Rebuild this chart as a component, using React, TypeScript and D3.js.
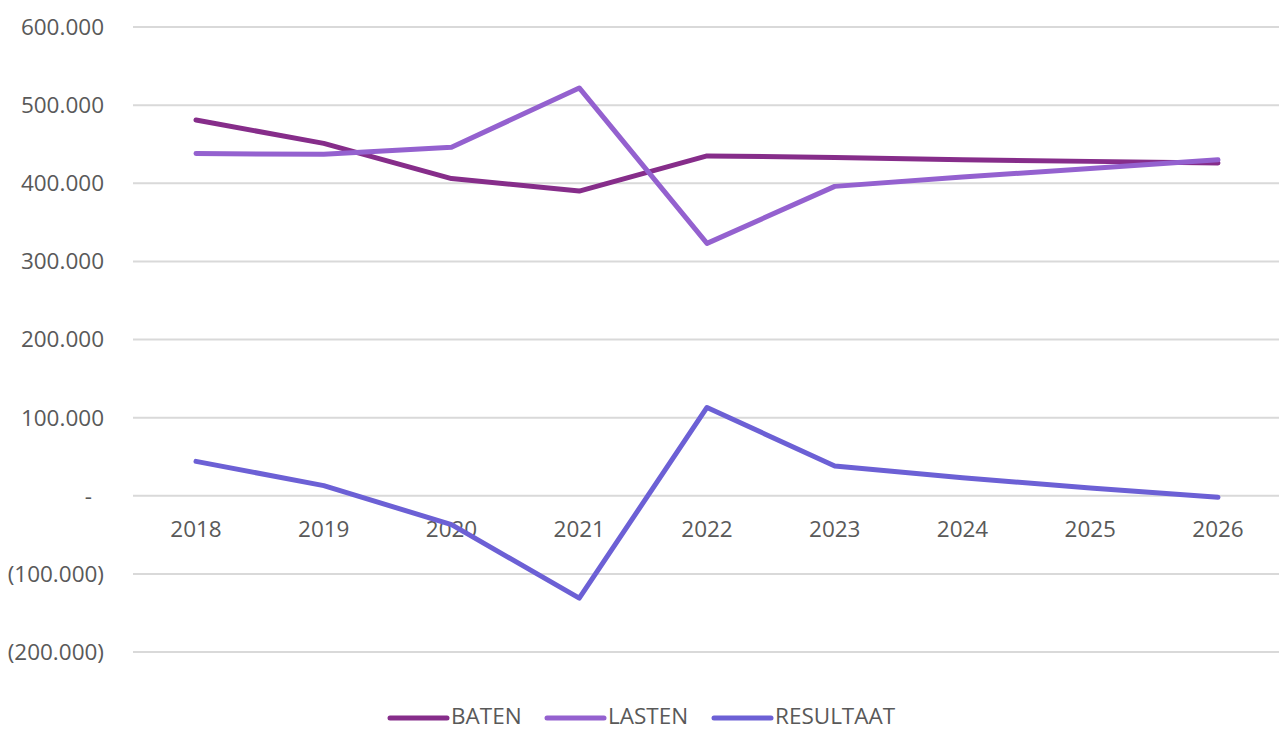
import React, { useEffect, useRef } from 'react';
import * as d3 from 'd3';

const years = ['2018', '2019', '2020', '2021', '2022', '2023', '2024', '2025', '2026'];
const baten = [481000, 451000, 406000, 390000, 435000, 433000, 430000, 428000, 426000];
const lasten = [438000, 437000, 446000, 522000, 323000, 396000, 408000, 419000, 430000];
const resultaat = [44000, 13000, -37000, -131000, 113000, 38000, 23000, 10000, -2000];
const yTicks = [600000, 500000, 400000, 300000, 200000, 100000, 0, -100000, -200000];

const seriesList = [
  { name: 'BATEN', values: baten, color: '#862d8a' },
  { name: 'LASTEN', values: lasten, color: '#9461cf' },
  { name: 'RESULTAAT', values: resultaat, color: '#6c60d5' },
];

const App = () => {
  const svgRef = useRef<SVGSVGElement>(null);

  useEffect(() => {
    const W = 1279;
    const H = 731;
    const svg = d3.select(svgRef.current);
    svg.selectAll('*').remove();
    svg.attr('width', W).attr('height', H);

    const font = "'Open Sans', sans-serif";
    const fs = '22.5px';
    const x = d3.scalePoint().domain(years).range([196, 1218]);
    const y = d3.scaleLinear().domain([-200000, 600000]).range([652, 27]);

    const fmt = (v: number) => {
      if (v === 0) return '-';
      const s = d3.format(',')(Math.abs(v)).replace(/,/g, '.');
      return v < 0 ? `(${s})` : s;
    };

    // gridlines
    svg.append('g')
      .selectAll('line')
      .data(yTicks)
      .enter().append('line')
      .attr('x1', 133).attr('x2', W)
      .attr('y1', d => y(d)).attr('y2', d => y(d))
      .attr('stroke', '#d9d9d9')
      .attr('stroke-width', 2);

    // y labels
    svg.append('g')
      .selectAll('text')
      .data(yTicks)
      .enter().append('text')
      .attr('x', d => (d === 0 ? 92 : 104))
      .attr('y', d => y(d))
      .attr('dy', '0.35em')
      .attr('text-anchor', 'end')
      .attr('fill', '#595959')
      .style('font-family', font)
      .style('font-size', fs)
      .text(d => fmt(d));

    // x labels
    svg.append('g')
      .selectAll('text')
      .data(years)
      .enter().append('text')
      .attr('x', d => x(d)!)
      .attr('y', 529)
      .attr('dy', '0.35em')
      .attr('text-anchor', 'middle')
      .attr('fill', '#595959')
      .style('font-family', font)
      .style('font-size', fs)
      .text(d => d);

    const line = d3.line<number>()
      .x((_, i) => x(years[i])!)
      .y(d => y(d));

    seriesList.forEach(s => {
      svg.append('path')
        .datum(s.values)
        .attr('fill', 'none')
        .attr('stroke', s.color)
        .attr('stroke-width', 5)
        .attr('stroke-linejoin', 'round')
        .attr('stroke-linecap', 'round')
        .attr('d', line);
    });

    // legend
    const legendX = [390, 547, 714];
    const legend = svg.append('g');
    seriesList.forEach((s, i) => {
      legend.append('line')
        .attr('x1', legendX[i]).attr('x2', legendX[i] + 57)
        .attr('y1', 718).attr('y2', 718)
        .attr('stroke', s.color)
        .attr('stroke-width', 5)
        .attr('stroke-linecap', 'round');
      legend.append('text')
        .attr('x', legendX[i] + 61)
        .attr('y', 716)
        .attr('dy', '0.35em')
        .attr('fill', '#595959')
        .style('font-family', font)
        .style('font-size', fs)
        .text(s.name);
    });
  }, []);

  return (
    <div style={{ position: 'absolute', left: 0, top: 0 }}>
      <svg ref={svgRef} style={{ display: 'block' }}></svg>
    </div>
  );
};

export default App;
